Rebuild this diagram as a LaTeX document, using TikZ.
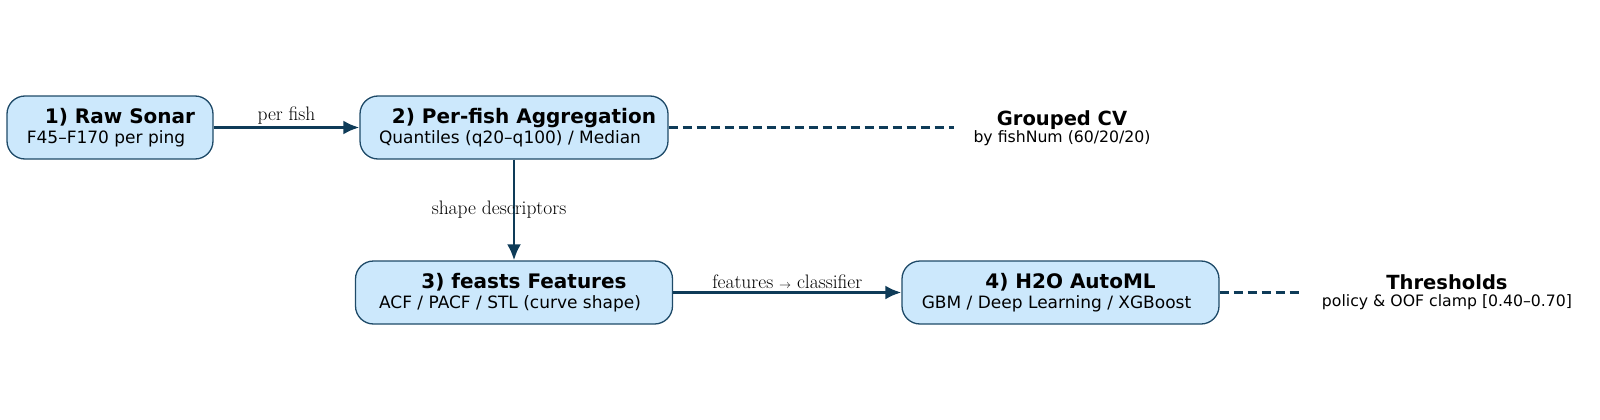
\documentclass[tikz,border=0pt]{standalone}
\usepackage{fontspec}
\setsansfont{DejaVu Sans}
\usetikzlibrary{arrows.meta}
\usetikzlibrary{calc}
\definecolor{boxfill}{HTML}{CCE8FC}
\definecolor{boxline}{HTML}{1E4A68}
\definecolor{flowline}{HTML}{0E3B58}
\newcommand*{\BoxRadius}{18pt}
\newcommand*{\StageText}[2]{\hspace*{20pt}{\fontsize{20}{20}\selectfont\bfseries #1}\\#2\hspace*{8pt}}
\newcommand*{\NoteText}[2]{{\fontsize{19.5}{17}\selectfont\bfseries #1}\\#2}

\begin{document}
\begin{tikzpicture}
	[x=1pt, y=-1pt,
	 stage/.style={draw=boxline, fill=boxfill, line width=1.3pt, rounded corners=\BoxRadius,
	   minimum height=63pt, inner sep=0pt, align=center, font=\sffamily\fontsize{17}{20}\selectfont},
	 note/.style={align=center, font=\sffamily\fontsize{15.7}{17}\selectfont, inner sep=0pt},
	 flow/.style={draw=flowline, line width=2.8pt, -{Latex[length=16pt,width=14pt]}},
	 link/.style={draw=flowline, line width=2.2pt, dash pattern=on 9pt off 5pt},
	 edgelabel/.style={font=\fontsize{19.5}{19.5}\selectfont, inner sep=2pt}]
	\useasboundingbox (0,0) rectangle (1600,420);

	%Stages
	\node[stage, minimum width=206pt] (raw) at (110,127.5) {\StageText{1) Raw Sonar}{F45–F170 per ping}};
	\node[stage, minimum width=308pt] (agg) at (514,127.5) {\StageText{2) Per-fish Aggregation}{Quantiles (q20–q100) / Median}};
	\node[stage, minimum width=317pt] (feat) at (514,292.5) {\StageText{3) feasts Features}{ACF / PACF / STL (curve shape)}};
	\node[stage, minimum width=317pt] (automl) at (1060.5,292.5) {\StageText{4) H2O AutoML}{GBM / Deep Learning / XGBoost}};

	%Notes
	\node[note] (cv) at (1062,128.5) {\NoteText{Grouped CV}{by fishNum (60/20/20)}};
	\node[note] (thr) at (1447,292.5) {\NoteText{Thresholds}{policy \& OOF clamp [0.40–0.70]}};
	\coordinate (cvend) at (954,127.5);
	\coordinate (thrend) at (1299,292.5);

	%Flow
	\draw[flow] (raw) -- (agg) node[midway, above, edgelabel] {per fish};
	\draw[flow] (agg) -- (feat) node[midway, xshift=-15pt, edgelabel] {shape descriptors};
	\draw[flow] (feat) -- (automl) node[midway, above, edgelabel] {features {\fontsize{13}{13}\selectfont$\rightarrow$} classifier};
	\draw[link] (agg) -- (cvend);
	\draw[link] (automl) -- (thrend);
\end{tikzpicture}
\end{document}
